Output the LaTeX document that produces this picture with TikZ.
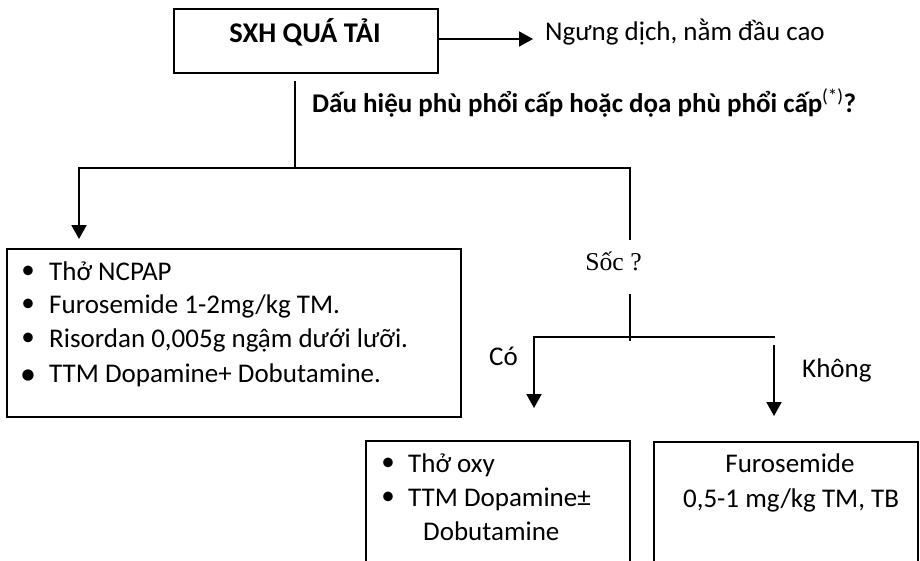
\documentclass[tikz,border=0pt]{standalone}
\usepackage{fontspec}
\setmainfont{Carlito}
\newfontfamily\timesfont{Liberation Serif}
\usetikzlibrary{arrows.meta}

\tikzset{
  line/.style={line width=2pt, line join=miter},
  arr/.style={line width=2pt, line join=miter, -{Triangle[width=15pt,length=14pt]}},
  box/.style={draw, line width=2pt, rectangle, inner sep=0pt},
  txt/.style={inner sep=0pt, font=\fontsize{27}{32}\selectfont},
  boldtxt/.style={inner sep=0pt, font=\fontsize{27}{32}\selectfont\bfseries},
  bul/.style={inner sep=0pt, anchor=center, font=\fontsize{27}{32}\selectfont},
  bigbul/.style={inner sep=0pt, anchor=center, font=\fontsize{32}{36}\selectfont},
}

\begin{document}
\begin{tikzpicture}[x=1pt, y=-1pt]
  \useasboundingbox (0,0) rectangle (920,560);
  \fill[white] (0,0) rectangle (920,560);
  \clip (0,0) rectangle (920,560);

  % top box and its side note
  \node[box, minimum width=264pt, minimum height=64pt] (top) at (306,41) {};
  \node[boldtxt, anchor=base, font=\fontsize{28.5}{32}\selectfont\bfseries] (toptxt) at (305,42) {SXH QUÁ TẢI};
  \node[txt, anchor=base west] (stop) at (545,40) {Ngưng dịch, nằm đầu cao};
  \coordinate (stoptip) at (533,39);
  \draw[arr] (top.east |- stoptip) -- (stoptip);

  % question
  \node[boldtxt, anchor=base west] (quest) at (312,112)
    {Dấu hiệu phù phổi cấp hoặc dọa phù phổi cấp\textsuperscript{\mdseries(*)}?};

  % first split
  \coordinate (q0) at (295,81);
  \coordinate (q1) at (295,168);
  \coordinate (rtop) at (630,240);
  \coordinate (rcorner) at (630,168);
  \coordinate (ltip) at (79,239);
  \draw[line] (q0) -- (q1);
  \draw[arr] (rtop) -- (rcorner) -| (ltip);

  % left treatment box
  \node[box, minimum width=454pt, minimum height=168pt] (lbox) at (234,333) {};
  \node[bul] (lb1) at (28,272) {•};
  \node[txt, anchor=base west] (l1) at (49,280) {Thở NCPAP};
  \node[bul] (lb2) at (28,305) {•};
  \node[txt, anchor=base west] (l2) at (49,313) {Furosemide 1-2mg/kg TM.};
  \node[bul] (lb3) at (28,339) {•};
  \node[txt, anchor=base west] (l3) at (49,347) {Risordan 0,005g ngậm dưới lưỡi.};
  \node[bigbul] (lb4) at (28,377) {•};
  \node[txt, anchor=base west] (l4) at (49,382) {TTM Dopamine+ Dobutamine.};

  % shock question
  \node[inner sep=0pt, anchor=base, font=\timesfont\fontsize{25.7}{30}\selectfont] (soc) at (613.5,270) {Sốc ?};
  \coordinate (s0) at (630,294);
  \coordinate (s1) at (630,341);
  \coordinate (hr) at (775,337);
  \coordinate (hl) at (534,337);
  \coordinate (ctip) at (534,408);
  \coordinate (k0) at (774,345);
  \coordinate (ktip) at (774,416);
  \draw[line] (s0) -- (s1);
  \draw[arr] (hr) -- (hl) -- (ctip);
  \draw[arr] (k0) -- (ktip);
  \node[txt, anchor=base west] (co) at (489,365) {Có};
  \node[txt, anchor=base west] (khong) at (802,377) {Không};

  % "yes" box
  \node[box, minimum width=264pt, minimum height=160pt] (cbox) at (498,521) {};
  \node[bul] (cb1) at (388,464) {•};
  \node[txt, anchor=base west] (c1) at (408,472) {Thở oxy};
  \node[bul] (cb2) at (388,498) {•};
  \node[txt, anchor=base west] (c2) at (408,506) {TTM Dopamine±};
  \node[txt, anchor=base west] (c3) at (423,540) {Dobutamine};

  % "no" box
  \node[box, minimum width=264pt, minimum height=160pt] (kbox) at (786,522) {};
  \node[txt, anchor=base] (k1) at (790,472) {Furosemide};
  \node[txt, anchor=base] (k2) at (791,507) {0,5-1 mg/kg TM, TB};
\end{tikzpicture}
\end{document}
